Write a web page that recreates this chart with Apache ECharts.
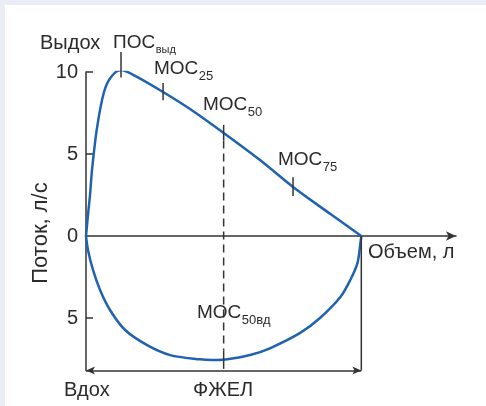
<!DOCTYPE html>
<html>
<head>
<meta charset="utf-8">
<script src="https://cdn.jsdelivr.net/npm/echarts@6/dist/echarts.min.js"></script>
<style>
  html, body { margin: 0; padding: 0; background: #e9edf5; }
  #panel { position: absolute; left: 5px; top: 5px; width: 481px; height: 401px; background: #ffffff; }
  #chart { position: absolute; left: 0; top: 0; width: 486px; height: 406px; }
</style>
</head>
<body>
<div id="panel"></div>
<div id="chart"></div>
<script>
// Flow–volume loop: volume in litres, flow in l/s (inspiration plotted below zero)
const expVolume = [0, 0.036, 0.073, 0.109, 0.2, 0.327, 0.455, 0.636, 0.9, 1.4, 1.89, 2.5, 3.16, 3.76, 4.44, 5.0];
const expFlow   = [0, 1.28, 2.5, 4.02, 6.59, 8.78, 9.7, 10.12, 9.75, 8.78, 7.74, 6.28, 4.63, 2.99, 1.34, 0];

const inspVolume = [0, 0.036, 0.127, 0.255, 0.436, 0.71, 1.11, 1.53, 2.07, 2.29, 2.53, 2.98, 3.35, 3.89, 4.25, 4.62, 4.8, 4.93, 4.98, 5.0];
const inspFlow   = [0, -0.85, -2.07, -3.29, -4.51, -5.73, -6.65, -7.26, -7.52, -7.56, -7.53, -7.26, -6.83, -5.91, -5.0, -3.72, -2.68, -1.65, -0.55, 0];

// Forced vital capacity and the characteristic points on the expiratory limb
const fvc = 5.0;
const pointNames  = ['ПОС', 'МОС', 'МОС', 'МОС'];
const pointSubs   = ['выд', '25', '50', '75'];
const pointVolume = [0.636, 1.4, 2.5, 3.76];
const pointFlow   = [10.12, 8.78, 6.28, 2.99];
const mef50inVolume = 2.5;
const mef50inFlow = -7.53;

// Flow axis labels (absolute values on both sides of zero)
const flowLabels = [-5, 0, 5, 10];
const flowTickValues = [-5, 5, 10];
const flowMin = -8.2;
const flowMax = 10;
const volumeMax = 6.72;

const BLUE = '#1f63b0';
const INK = '#2b2b2b';
const AXIS = '#333333';
const FONT = '"Liberation Sans", Arial, sans-serif';

const zip = (a, b) => a.map((v, i) => [v, b[i]]);

function segment(data, extra) {
  return Object.assign({
    type: 'line', data: data, symbol: 'none', silent: true, clip: false,
    lineStyle: { color: AXIS, width: 1.5 }, z: 4
  }, extra || {});
}

// tick marks crossing the curve at each characteristic point
const tickSpans = [[1.1, 0.45], [0.55, 0.5], [0.5, 0.45], [0.6, 0.55]];
const tickSeries = pointVolume.map((v, i) =>
  segment([[v, pointFlow[i] + tickSpans[i][0]], [v, pointFlow[i] - tickSpans[i][1]]]));

// text width helper so subscripts sit right after their main label
const measureCtx = document.createElement('canvas').getContext('2d');
function textWidth(s, size) {
  measureCtx.font = size + 'px "Liberation Sans"';
  return measureCtx.measureText(s).width;
}

function txt(x, y, s, size, extra) {
  return Object.assign({
    type: 'text', x: x, y: y, silent: true, z: 10,
    style: { text: s, font: size + 'px ' + FONT, fill: INK, align: 'left', verticalAlign: 'middle' }
  }, extra || {});
}

// main label + lowered subscript
function subLabel(x, y, main, sub, size, subSize, drop) {
  return [
    txt(x, y, main, size),
    txt(x + textWidth(main, size) + 0.5, y + drop, sub, subSize)
  ];
}

const chart = echarts.init(document.getElementById('chart'), null, { renderer: 'canvas' });

chart.setOption({
  animation: false,
  backgroundColor: 'transparent',
  grid: { left: 86, right: 30, top: 72, bottom: 35.5, containLabel: false },
  xAxis: {
    type: 'value', min: 0, max: volumeMax,
    axisLine: { onZero: true, lineStyle: { color: AXIS, width: 1.5 }, symbol: ['none', 'arrow'], symbolSize: [7, 10] },
    axisTick: { show: false }, axisLabel: { show: false }, splitLine: { show: false }
  },
  yAxis: {
    type: 'value', min: flowMin, max: flowMax,
    axisLine: { show: true, onZero: false, lineStyle: { color: AXIS, width: 1.5 } },
    axisTick: { show: true, inside: true, length: 7, lineStyle: { color: AXIS, width: 1.5 }, customValues: flowTickValues },
    axisLabel: { customValues: flowLabels, formatter: v => String(Math.abs(v)), color: INK, fontSize: 20, fontFamily: FONT, margin: 8 },
    splitLine: { show: false }
  },
  series: [
    {
      type: 'line', name: 'Выдох', data: zip(expVolume, expFlow), smooth: 0.3, symbol: 'none',
      lineStyle: { color: BLUE, width: 2.5 }, z: 3
    },
    {
      type: 'line', name: 'Вдох', data: zip(inspVolume, inspFlow), smooth: 0.3, symbol: 'none',
      lineStyle: { color: BLUE, width: 2.5 }, z: 3
    },
    ...tickSeries,
    segment([[mef50inVolume, pointFlow[2] - 0.45], [mef50inVolume, mef50inFlow + 0.53]], { lineStyle: { color: AXIS, width: 1.5, type: [8, 5] } }),
    segment([[mef50inVolume, mef50inFlow + 0.53], [mef50inVolume, flowMin + 0.1]]),
    segment([[fvc, 0], [fvc, flowMin]], {
      markLine: {
        silent: true, symbol: ['arrow', 'arrow'], symbolSize: [6, 9],
        lineStyle: { color: AXIS, width: 1.5, type: 'solid' }, label: { show: false },
        data: [[{ coord: [0, flowMin] }, { coord: [fvc, flowMin] }]]
      }
    })
  ],
  graphic: [
    txt(40, 43, 'Выдох', 20),
    ...subLabel(113, 43, pointNames[0], pointSubs[0], 19, 11, 7),
    ...subLabel(154, 69, pointNames[1], pointSubs[1], 19, 13, 7),
    ...subLabel(203, 105, pointNames[2], pointSubs[2], 19, 13, 7),
    ...subLabel(278, 160, pointNames[3], pointSubs[3], 19, 13, 7),
    ...subLabel(197, 313, 'МОС', '50вд', 19, 13, 7),
    txt(368, 252, 'Объем, л', 20),
    txt(64, 390, 'Вдох', 20),
    txt(193, 390, 'ФЖЕЛ', 20),
    txt(41, 233, 'Поток, л/с', 22, { rotation: Math.PI / 2, style: { text: 'Поток, л/с', font: '22px ' + FONT, fill: INK, align: 'center', verticalAlign: 'middle' } })
  ]
});
</script>
</body>
</html>
